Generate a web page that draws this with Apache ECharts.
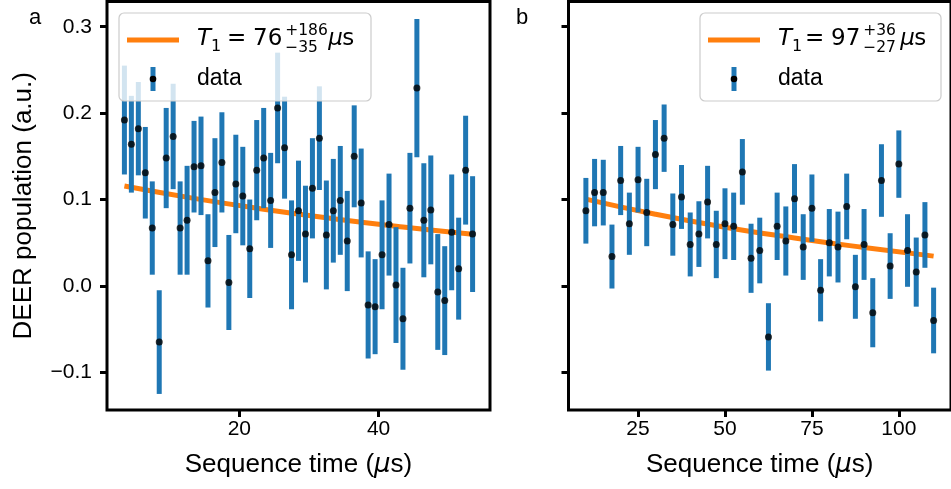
<!DOCTYPE html>
<html><head><meta charset="utf-8">
<script src="https://cdn.jsdelivr.net/npm/echarts@6/dist/echarts.min.js"></script>
<style>html,body{margin:0;padding:0;background:#fff}#c{width:951px;height:489px}</style>
</head><body><div id="c"></div>
<script>
// ---- data (panel a) ----
const timeA = [3.5,4.5,5.5,6.5,7.5,8.5,9.5,10.5,11.5,12.5,13.5,14.5,15.5,16.5,17.5,18.5,19.5,20.5,21.5,22.5,23.5,24.5,25.5,26.5,27.5,28.5,29.5,30.5,31.5,32.5,33.5,34.5,35.5,36.5,37.5,38.5,39.5,40.5,41.5,42.5,43.5,44.5,45.5,46.5,47.5,48.5,49.5,50.5,51.5,52.5,53.5];
const popA = [0.192,0.164,0.182,0.131,0.067,-0.065,0.148,0.173,0.067,0.076,
              0.138,0.139,0.029,0.108,0.143,0.004,0.118,0.104,0.043,0.134,
              0.148,0.099,0.206,0.160,0.036,0.087,0.060,0.113,0.171,0.059,
              0.087,0.099,0.052,0.150,0.096,-0.022,-0.024,0.036,0.071,0.001,
              -0.038,0.090,0.229,0.076,0.088,-0.007,-0.017,0.062,0.020,0.134,0.060];
const errA = [0.063,0.056,0.054,0.053,0.054,0.060,0.058,0.061,0.054,0.063,
              0.053,0.057,0.054,0.063,0.058,0.055,0.057,0.057,0.057,0.058,
              0.058,0.055,0.064,0.059,0.063,0.058,0.056,0.058,0.060,0.063,
              0.060,0.063,0.058,0.059,0.063,0.062,0.055,0.063,0.059,0.067,
              0.059,0.064,0.080,0.066,0.063,0.067,0.063,0.067,0.059,0.063,0.067];
const fitTimeA = [3.5,13.5,23.5,33.5,43.5,53.5];
const fitA = [0.1156,0.1013,0.0888,0.0778,0.0682,0.0598];
// ---- data (panel b) ----
const timeB = [10,12.5,15,17.5,20,22.5,25,27.5,30,32.5,35,37.5,40,42.5,45,47.5,50,52.5,55,57.5,60,62.5,65,67.5,70,72.5,75,77.5,80,82.5,85,87.5,90,92.5,95,97.5,100,102.5,105,107.5,110];
const popB = [0.087,0.108,0.108,0.034,0.122,0.072,0.123,0.085,0.152,0.171,
              0.071,0.103,0.048,0.060,0.097,0.048,0.072,0.069,0.132,0.032,
              0.041,-0.059,0.069,0.052,0.101,0.045,0.090,-0.005,0.050,0.045,
              0.092,-0.001,0.048,-0.031,0.122,0.023,0.141,0.041,0.016,0.059,-0.040];
const errB = [0.038,0.039,0.038,0.037,0.040,0.036,0.038,0.039,0.040,0.039,
              0.036,0.037,0.037,0.038,0.042,0.039,0.041,0.039,0.038,0.040,
              0.038,0.039,0.039,0.040,0.040,0.038,0.039,0.036,0.039,0.041,
              0.038,0.037,0.041,0.040,0.042,0.038,0.039,0.042,0.040,0.038,0.038];
const fitTimeB = [10,30,50,70,90,110];
const fitB = [0.1005,0.083,0.068,0.0555,0.0445,0.0345];
// ---- ticks ----
const xTicksA = [20,40];
const xTicksB = [25,50,75,100];
const yTicks = [-0.1,0.0,0.1,0.2,0.3];
const yTickLabels = ['\u22120.1','0.0','0.1','0.2','0.3'];
const legendA = {main:'76', sup:'+186', sub:'\u221235'};
const legendB = {main:'97', sup:'+36', sub:'\u221227'};

const BLUE = '#1f77b4', ORANGE = '#ff7f0e';
const SANS = 'Liberation Sans, Arial, sans-serif';
const MATH = 'DejaVu Sans';
const Y_MIN = -0.1436, Y_MAX = 0.3292;

function errSeries(i, t, v, e) {
  return {
    type: 'custom', xAxisIndex: i, yAxisIndex: i, z: 3,
    data: t.map((x, k) => [x, v[k] - e[k], v[k] + e[k]]),
    renderItem: function (params, api) {
      const p1 = api.coord([api.value(0), api.value(1)]);
      const p2 = api.coord([api.value(0), api.value(2)]);
      return {type: 'line', shape: {x1: p1[0], y1: p1[1], x2: p2[0], y2: p2[1]},
              style: {stroke: BLUE, lineWidth: 5}};
    }
  };
}
function dotSeries(i, t, v) {
  return {type: 'scatter', xAxisIndex: i, yAxisIndex: i, z: 4, symbolSize: 7,
          itemStyle: {color: '#000'}, data: t.map((x, k) => [x, v[k]]), silent: true};
}
function fitSeries(i, t, v) {
  return {type: 'line', xAxisIndex: i, yAxisIndex: i, z: 2, smooth: true, showSymbol: false,
          lineStyle: {color: ORANGE, width: 5}, data: t.map((x, k) => [x, v[k]]), silent: true};
}
function xAxisDef(i, min, max, ticks) {
  return {
    gridIndex: i, type: 'value', min: min, max: max,
    name: 'Sequence time ({mu|\u03bc}s)', nameLocation: 'middle', nameGap: 42,
    nameTextStyle: {fontFamily: SANS, fontSize: 26, color: '#000',
      rich: {mu: {fontFamily: MATH, fontStyle: 'italic', fontSize: 26, color: '#000'}}},
    axisLine: {show: false, onZero: false},
    axisTick: {show: true, customValues: ticks, length: 7, lineStyle: {color: '#000', width: 3}},
    axisLabel: {show: true, customValues: ticks, margin: 9, fontFamily: SANS, fontSize: 21, color: '#000'},
    splitLine: {show: false}
  };
}
function yAxisDef(i, showLabels) {
  const d = {
    gridIndex: i, type: 'value', min: Y_MIN, max: Y_MAX,
    axisLine: {show: false, onZero: false},
    axisTick: {show: true, customValues: yTicks, length: 7, lineStyle: {color: '#000', width: 3}},
    axisLabel: {show: showLabels, customValues: yTicks, margin: 15, fontFamily: SANS, fontSize: 21, color: '#000',
      formatter: function (val) { const k = yTicks.findIndex(t => Math.abs(t - val) < 1e-9); return k >= 0 ? yTickLabels[k] : ''; }},
    splitLine: {show: false}
  };
  if (showLabels) {
    d.name = 'DEER population (a.u.)';
    d.nameLocation = 'middle';
    d.nameGap = 70;
    d.nameTextStyle = {fontFamily: SANS, fontSize: 26, color: '#000'};
  }
  return d;
}
function legendGraphics(bx, lg, bw, mainOff, muOff) {
  const by = 13, bh = 88;
  const tx = bx + 78;
  const mainX = bx + mainOff;
  const supX = mainX + lg.main.length * 14.6 + 3;
  const muX = supX + muOff;
  return [
    {type: 'rect', shape: {x: bx, y: by, width: bw, height: bh, r: 5},
     style: {fill: 'rgba(255,255,255,0.8)', stroke: '#cccccc', lineWidth: 1.2}, z: 10},
    {type: 'line', shape: {x1: bx + 8, y1: 40, x2: bx + 60, y2: 40}, style: {stroke: ORANGE, lineWidth: 5}, z: 11},
    {type: 'line', shape: {x1: bx + 34, y1: 67, x2: bx + 34, y2: 91}, style: {stroke: BLUE, lineWidth: 5}, z: 11},
    {type: 'circle', shape: {cx: bx + 34, cy: 79, r: 3.3}, style: {fill: '#000'}, z: 12},
    {type: 'text', x: tx, y: 39, z: 11, style: {text: 'T', fontFamily: MATH, fontStyle: 'italic', fontSize: 23, fill: '#000', verticalAlign: 'middle'}},
    {type: 'text', x: tx + 14, y: 47, z: 11, style: {text: '1', fontFamily: MATH, fontSize: 16, fill: '#000', verticalAlign: 'middle'}},
    {type: 'text', x: mainX - 26, y: 39, z: 11, style: {text: '=', fontFamily: MATH, fontSize: 23, fill: '#000', verticalAlign: 'middle'}},
    {type: 'text', x: mainX, y: 39, z: 11, style: {text: lg.main, fontFamily: MATH, fontSize: 23, fill: '#000', verticalAlign: 'middle'}},
    {type: 'text', x: supX, y: 31, z: 11, style: {text: lg.sup, fontFamily: MATH, fontSize: 15.5, fill: '#000', verticalAlign: 'middle'}},
    {type: 'text', x: supX, y: 48, z: 11, style: {text: lg.sub, fontFamily: MATH, fontSize: 15.5, fill: '#000', verticalAlign: 'middle'}},
    {type: 'text', x: muX, y: 39, z: 11, style: {text: '\u03bc', fontFamily: MATH, fontStyle: 'italic', fontSize: 23, fill: '#000', verticalAlign: 'middle'}},
    {type: 'text', x: muX + 14, y: 39, z: 11, style: {text: 's', fontFamily: MATH, fontSize: 23, fill: '#000', verticalAlign: 'middle'}},
    {type: 'text', x: tx, y: 79, z: 11, style: {text: 'data', fontFamily: SANS, fontSize: 23, fill: '#000', verticalAlign: 'middle'}}
  ];
}

const chart = echarts.init(document.getElementById('c'));
chart.setOption({
  animation: false,
  backgroundColor: '#fff',
  grid: [
    {left: 107, top: 1.5, width: 383, height: 408.5, show: true, borderColor: '#000', borderWidth: 3, backgroundColor: 'transparent'},
    {left: 568.5, top: 1.5, width: 385.8, height: 408.5, show: true, borderColor: '#000', borderWidth: 3, backgroundColor: 'transparent'}
  ],
  xAxis: [xAxisDef(0, 1, 56, xTicksA), xAxisDef(1, 5, 115, xTicksB)],
  yAxis: [yAxisDef(0, true), yAxisDef(1, false)],
  series: [
    fitSeries(0, fitTimeA, fitA), errSeries(0, timeA, popA, errA), dotSeries(0, timeA, popA),
    fitSeries(1, fitTimeB, fitB), errSeries(1, timeB, popB, errB), dotSeries(1, timeB, popB)
  ],
  graphic: [].concat(
    legendGraphics(119, legendA, 252, 134, 43),
    legendGraphics(700, legendB, 241, 131, 37),
    [
      {type: 'text', x: 35, y: 18, z: 11, style: {text: 'a', fontFamily: SANS, fontSize: 22, fill: '#000', align: 'center', verticalAlign: 'middle'}},
      {type: 'text', x: 522, y: 18, z: 11, style: {text: 'b', fontFamily: SANS, fontSize: 22, fill: '#000', align: 'center', verticalAlign: 'middle'}}
    ]
  )
});
</script>
</body></html>
